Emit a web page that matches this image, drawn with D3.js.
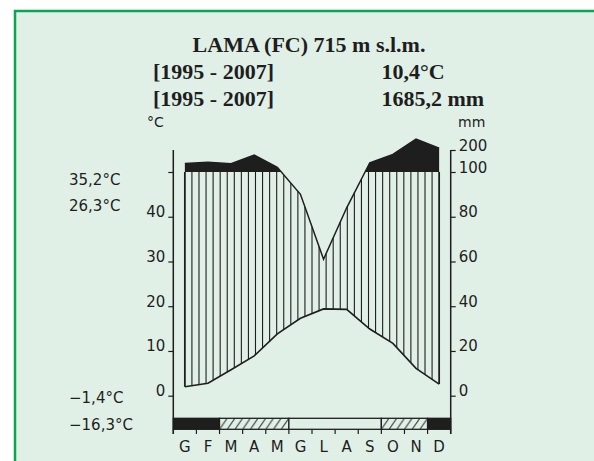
<!DOCTYPE html>
<html>
<head>
<meta charset="utf-8">
<script src="https://cdn.jsdelivr.net/npm/d3@7"></script>
<style>
  html, body { margin: 0; padding: 0; background: #ffffff; }
  svg { display: block; }
</style>
</head>
<body>
<svg id="chart" width="594" height="461"></svg>
<script>
// Diagramma climatico Walter-Lieth - Lama (FC)
const months = ["G", "F", "M", "A", "M", "G", "L", "A", "S", "O", "N", "D"];
const temperature = [2.0, 2.8, 5.8, 8.9, 13.8, 17.3, 19.4, 19.3, 14.9, 11.7, 6.1, 2.6];
const precipitation = [139, 144, 138, 177, 121, 90, 61, 84, 142, 180, 250, 208];
// frost: 2 = gelo certo, 1 = gelo probabile, 0 = nessun gelo
const frost = [2, 2, 1, 1, 1, 0, 0, 0, 0, 1, 1, 2];
const titleText = "LAMA (FC) 715 m s.l.m.";
const periodLabels = ["[1995 - 2007]", "[1995 - 2007]"];
const annualLabels = ["10,4°C", "1685,2 mm"];
const extremeHigh = ["35,2°C", "26,3°C"];
const extremeLow = ["\u22121,4°C", "\u221216,3°C"];
const tempTicks = [0, 10, 20, 30, 40, 50];
const precTicks = [0, 20, 40, 60, 80, 100, 200];

const svg = d3.select("#chart");
const ink = "#1e1e1e";
const bg = "#e1f0e7";
const sans = "'DejaVu Sans', sans-serif";
const serif = "'Liberation Serif', 'Times New Roman', serif";

// panel background and frame
svg.append("rect").attr("x", 15).attr("y", 11).attr("width", 590).attr("height", 470)
  .attr("fill", bg).attr("stroke", "#0aa552").attr("stroke-width", 2.5);

// plot geometry
const x0 = 173.3, x1 = 450.7;
const yTop = 150, yZero = 395.7, yBarTop = 418.3, yBarBottom = 429.3, yAxisEnd = 434;

const xBand = d3.scaleBand().domain(d3.range(12)).range([x0, x1]).padding(0);
const bw = xBand.bandwidth();
const xMid = i => xBand(i) + bw / 2;
const yT = d3.scaleLinear().domain([0, 50]).range([yZero, 172]);
// precipitation: 2 mm = 1 °C up to 100 mm, compressed above
const yP = d3.scaleLinear().domain([0, 100, 200]).range([yZero, 172, yTop]);

const sansText = (x, y, t, size) => svg.append("text").attr("x", x).attr("y", y)
  .attr("font-family", sans).attr("font-size", size).attr("fill", ink).text(t);

// texts at the top
svg.append("text").attr("x", 309).attr("y", 51.5).attr("text-anchor", "middle")
  .attr("font-family", serif).attr("font-weight", "bold").attr("font-size", 22)
  .attr("fill", ink).text(titleText);
periodLabels.forEach((t, i) => {
  svg.append("text").attr("x", 153).attr("y", 79 + i * 27)
    .attr("font-family", serif).attr("font-weight", "bold").attr("font-size", 22)
    .attr("fill", ink).text(t);
});
annualLabels.forEach((t, i) => {
  svg.append("text").attr("x", 381.5).attr("y", 79 + i * 27)
    .attr("font-family", serif).attr("font-weight", "bold").attr("font-size", 22)
    .attr("fill", ink).text(t);
});

// unit labels
sansText(147, 127, "°C", 14);
sansText(458, 127, "mm", 14);

// extreme temperatures
extremeHigh.forEach((t, i) => sansText(69, 185 + i * 25.5, t, 15));
extremeLow.forEach((t, i) => sansText(69, 403 + i * 27, t, 15));

// pixel positions of the monthly points
const tPts = temperature.map((v, i) => [xMid(i), yT(v)]);
const pPts = precipitation.map((v, i) => [xMid(i), yP(v)]);
const interpY = (pts, x) => {
  for (let i = 0; i < pts.length - 1; i++) {
    const a = pts[i], b = pts[i + 1];
    if (x >= a[0] - 1e-6 && x <= b[0] + 1e-6) {
      const f = (x - a[0]) / (b[0] - a[0]);
      return a[1] + f * (b[1] - a[1]);
    }
  }
  return pts[pts.length - 1][1];
};

// humid period: vertical lines between temperature and precipitation (max 100 mm)
const y100 = yP(100);
const xs = d3.range(37).map(k => xMid(0) + k * (xMid(11) - xMid(0)) / 36);
svg.append("g").selectAll("line").data(xs).join("line")
  .attr("x1", d => d).attr("x2", d => d)
  .attr("y1", d => interpY(tPts, d))
  .attr("y2", d => Math.max(interpY(pPts, d), y100))
  .attr("stroke", ink).attr("stroke-width", (d, i) => (i === 0 || i === 36) ? 1.8 : 1.1);

// very humid period (> 100 mm) in solid black
svg.append("clipPath").attr("id", "above100")
  .append("rect").attr("x", x0).attr("y", 0).attr("width", x1 - x0).attr("height", y100);
svg.append("path")
  .datum(precipitation)
  .attr("clip-path", "url(#above100)")
  .attr("d", d3.area().x((d, i) => xMid(i)).y0(y100).y1(d => yP(d)))
  .attr("fill", ink);

// precipitation and temperature curves
svg.append("path").datum(precipitation)
  .attr("d", d3.line().x((d, i) => xMid(i)).y(d => yP(d)))
  .attr("fill", "none").attr("stroke", ink).attr("stroke-width", 1.5);
svg.append("path").datum(temperature)
  .attr("d", d3.line().x((d, i) => xMid(i)).y(d => yT(d)))
  .attr("fill", "none").attr("stroke", ink).attr("stroke-width", 1.6);

// frost bar, drawn as runs of equal class
const pw = bw / 3, ph = yBarBottom - yBarTop;
const pat = svg.append("defs").append("pattern").attr("id", "hatch")
  .attr("patternUnits", "userSpaceOnUse").attr("width", pw).attr("height", ph)
  .attr("x", x0).attr("y", yBarTop);
pat.append("rect").attr("width", pw).attr("height", ph).attr("fill", bg);
pat.append("line").attr("x1", 0).attr("y1", ph).attr("x2", pw).attr("y2", 0)
  .attr("stroke", ink).attr("stroke-width", 1);

const runs = [];
frost.forEach((d, i) => {
  if (runs.length && runs[runs.length - 1].cls === d) runs[runs.length - 1].end = i + 1;
  else runs.push({ cls: d, start: i, end: i + 1 });
});
svg.append("g").selectAll("rect").data(runs).join("rect")
  .attr("x", d => x0 + d.start * bw).attr("y", yBarTop)
  .attr("width", d => (d.end - d.start) * bw).attr("height", ph)
  .attr("fill", d => d.cls === 2 ? ink : d.cls === 1 ? "url(#hatch)" : bg)
  .attr("stroke", ink).attr("stroke-width", 1.3);

// month ticks and labels
svg.append("g").selectAll("line").data(d3.range(13)).join("line")
  .attr("x1", d => x0 + d * bw).attr("x2", d => x0 + d * bw)
  .attr("y1", yBarBottom).attr("y2", yAxisEnd).attr("stroke", ink).attr("stroke-width", 1.2);
svg.append("g").selectAll("text").data(months).join("text")
  .attr("x", (d, i) => xMid(i)).attr("y", 451.5).attr("text-anchor", "middle")
  .attr("font-family", sans).attr("font-size", 15).attr("fill", ink).text(d => d);

// axes
const leftAxis = svg.append("g").attr("transform", `translate(${x0},0)`)
  .call(d3.axisLeft(yT).tickValues(tempTicks).tickSize(5).tickSizeOuter(0)
    .tickFormat(d => d === 50 ? "" : d));
const rightAxis = svg.append("g").attr("transform", `translate(${x1},0)`)
  .call(d3.axisRight(yP).tickValues(precTicks).tickSize(5).tickSizeOuter(0));
[leftAxis, rightAxis].forEach(g => {
  g.select(".domain").remove();
  g.selectAll(".tick line").attr("stroke", ink).attr("stroke-width", 1.2);
  g.selectAll(".tick text").attr("dy", "0").attr("font-family", sans)
    .attr("font-size", 15).attr("fill", ink);
});
[x0, x1].forEach(x => {
  svg.append("line").attr("x1", x).attr("x2", x).attr("y1", yTop).attr("y2", yAxisEnd)
    .attr("stroke", ink).attr("stroke-width", 1.5);
});
</script>
</body>
</html>
